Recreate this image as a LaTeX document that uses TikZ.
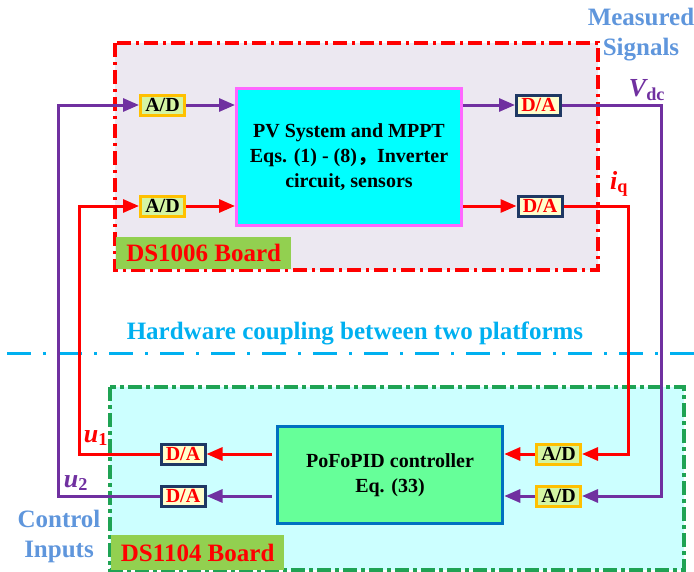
\documentclass[tikz,border=0pt]{standalone}
\usepackage{fontspec}
\setmainfont{Liberation Serif}
\newfontfamily\cjk{Noto Sans CJK SC}
\usetikzlibrary{arrows.meta}

\definecolor{sigpurple}{HTML}{7030A0}
\definecolor{sigred}{HTML}{FF0000}
\definecolor{adedge}{HTML}{FFC000}
\definecolor{adfill}{HTML}{D4F5A2}
\definecolor{daedge}{HTML}{1F3864}
\definecolor{dafill}{HTML}{FFFFCC}
\definecolor{pvfill}{HTML}{00FFFF}
\definecolor{pvedge}{HTML}{FF66FF}
\definecolor{ctrlfill}{HTML}{66FF99}
\definecolor{ctrledge}{HTML}{0070C0}
\definecolor{topboard}{HTML}{ECE8F1}
\definecolor{botboard}{HTML}{CCFFFF}
\definecolor{botedge}{HTML}{1FA354}
\definecolor{tagfill}{HTML}{92D050}
\definecolor{sidetext}{HTML}{5F96DC}
\definecolor{coupling}{HTML}{00B0F0}

\begin{document}
\begin{tikzpicture}[x=1pt,y=-1pt,
	conv/.style={rectangle,line width=3pt,minimum width=44pt,minimum height=20pt,
		inner sep=0pt,font=\fontsize{20}{20}\selectfont\bfseries},
	ad/.style={conv,draw=adedge,fill=adfill},
	da/.style={conv,draw=daedge,fill=dafill,text=sigred},
	block/.style={rectangle,line width=3pt,minimum width=225pt,align=center,
		font=\fontsize{20}{25}\selectfont\bfseries},
	sig/.style={line width=3pt,-{Triangle[length=16pt,width=13pt]}},
	boardtag/.style={anchor=north west,fill=tagfill,text=sigred,inner sep=0pt,
		font=\fontsize{25}{25}\selectfont\bfseries},
	sidelabel/.style={text=sidetext,align=center,font=\fontsize{25}{30}\selectfont\bfseries},
	varlabel/.style={font=\fontsize{26}{26}\selectfont\bfseries\itshape}]
		\useasboundingbox (0,0) rectangle (694,571);
		% the two boards
		\draw[sigred,fill=topboard,line width=3.2pt,dash pattern=on 14pt off 5pt on 3pt off 5pt]
		(115,43) rectangle (598,270);
		\draw[botedge,fill=botboard,line width=3.2pt,dash pattern=on 14pt off 4pt on 4pt off 4pt]
		(110,387) rectangle (684,570);
		\node[boardtag,minimum width=175pt,minimum height=32pt] (tag1) at (116,237) {DS1006 Board};
		\node[boardtag,minimum width=173pt,minimum height=35pt] (tag2) at (111,535) {DS1104 Board};
		
		\draw[coupling,line width=3pt,dash pattern=on 24pt off 12pt on 3pt off 12pt] (7,353) -- (694,353);
		\node[text=coupling,font=\fontsize{25}{25}\selectfont\bfseries] (hw) at (355,333)
		{Hardware coupling between two platforms};
		
		\node[sidelabel] (meas) at (641,35) {Measured\\Signals};
		\node[sidelabel] (ctin) at (59,536) {Control\\Inputs};
		
		% blocks
		\node[block,draw=pvedge,fill=pvfill,minimum height=137pt] (pv) at (349,157)
		{PV System and MPPT\\Eqs. (1) - (8){\cjk ，}Inverter\\circuit, sensors};
		\node[block,draw=ctrledge,fill=ctrlfill,minimum height=97pt,line width=3.5pt] (ctrl) at (390,475)
		{PoFoPID controller\\Eq. (33)};
		
		\node[ad] (adt1) at (162.5,105) {A/D};
		\node[ad] (adt2) at (162.5,206) {A/D};
		\node[da] (dat1) at (538.5,105) {D/A};
		\node[da] (dat2) at (540,206) {D/A};
		\node[da] (dab1) at (183,454) {D/A};
		\node[da] (dab2) at (183,496) {D/A};
		\node[ad] (adb1) at (558.5,454) {A/D};
		\node[ad] (adb2) at (558.5,496) {A/D};
		
		\coordinate (pl) at (58,0);
		\coordinate (rl) at (79,0);
		\coordinate (rr) at (628,0);
		\coordinate (pr) at (661,0);
		
		% purple loop
		\draw[sig,sigpurple] (adt1.east) -- (adt1 -| pv.west);
		\draw[sig,sigpurple] (pv.east |- dat1) -- (dat1.west);
		\draw[sig,sigpurple] (dat1.east) -| (pr |- adb2) -- (adb2.east);
		\draw[sig,sigpurple] (adb2.west) -- (adb2 -| ctrl.east);
		\draw[sig,sigpurple,shorten <=4pt] (ctrl.west |- dab2) -- (dab2.east);
		\draw[sig,sigpurple] (dab2.west) -| (pl |- adt1) -- (adt1.west);
		
		% red loop
		\draw[sig,sigred] (adt2.east) -- (adt2 -| pv.west);
		\draw[sig,sigred] (pv.east |- dat2) -- (dat2.west);
		\draw[sig,sigred] (dat2.east) -| (rr |- adb1) -- (adb1.east);
		\draw[sig,sigred] (adb1.west) -- (adb1 -| ctrl.east);
		\draw[sig,sigred,shorten <=4pt] (ctrl.west |- dab1) -- (dab1.east);
		\draw[sig,sigred] (dab1.west) -| (rl |- adt2) -- (adt2.west);
		
		\node[varlabel,text=sigpurple] (vdc) at (647,90) {V\textsubscript{\upshape dc}};
		\node[varlabel,text=sigred] (iq) at (619,184) {i\textsubscript{\upshape q}};
		\node[varlabel,text=sigred] (u1) at (96,438) {u\textsubscript{\upshape 1}};
		\node[varlabel,text=sigpurple] (u2) at (76,483) {u\textsubscript{\upshape 2}};
\end{tikzpicture}
\end{document}
